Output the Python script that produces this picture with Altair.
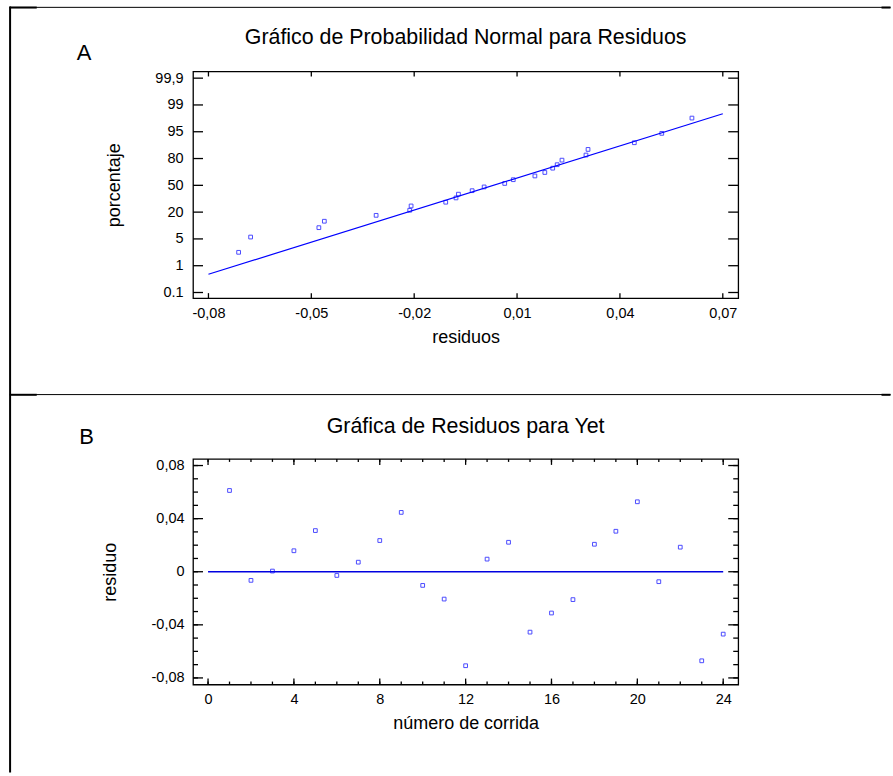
import json
import altair as alt
import pandas as pd

# ---------------- Panel A: normal probability plot of residuals ----------------
resid_sorted = [-0.0712, -0.0677, -0.0478, -0.0462, -0.0311, -0.0213, -0.0209, -0.0108,
                -0.0078, -0.0071, -0.0031, 0.0004, 0.0064, 0.0089, 0.0152, 0.0181,
                0.0204, 0.0217, 0.0231, 0.0301, 0.0307, 0.0442, 0.0522, 0.0610]
# position on the probability scale (0 = "0.1" tick ... 8 = "99,9" tick)
prob_pos = [1.50, 2.07, 2.42, 2.66, 2.88, 3.07, 3.23, 3.37, 3.53, 3.67, 3.80, 3.94,
            4.07, 4.21, 4.35, 4.48, 4.64, 4.77, 4.94, 5.13, 5.34, 5.59, 5.94, 6.51]
fit_x = [-0.08, 0.07]
fit_pos = [0.68, 6.67]
prob_labels = ["0.1", "1", "5", "20", "50", "80", "95", "99", "99,9"]
prob_tick_pos = [0, 1, 2, 3, 4, 5, 6, 7, 8]
resid_ticks = [-0.08, -0.05, -0.02, 0.01, 0.04, 0.07]

# ---------------- Panel B: residuals vs run number ----------------
runs = list(range(1, 25))
residuals = [0.0612, -0.0065, 0.0005, 0.0158, 0.0310, -0.0028, 0.0072, 0.0235,
             0.0447, -0.0103, -0.0206, -0.0708, 0.0095, 0.0222, -0.0455, -0.0311,
             -0.0210, 0.0207, 0.0305, 0.0527, -0.0075, 0.0185, -0.0671, -0.0470]
zero_runs = [0, 24]
zero_res = [0, 0]
run_ticks_major = [0, 4, 8, 12, 16, 20, 24]
run_ticks_minor = list(range(0, 25))
res_ticks_major = [-0.08, -0.04, 0, 0.04, 0.08]
res_ticks_minor = [-0.08, -0.07, -0.06, -0.05, -0.04, -0.03, -0.02, -0.01, 0,
                   0.01, 0.02, 0.03, 0.04, 0.05, 0.06, 0.07, 0.08]

title_A = "Gráfico de Probabilidad Normal para Residuos"
title_B = "Gráfica de Residuos para Yet"

FONT = "Liberation Sans"
BLUE = "#0000FF"
WA, HA = 546, 227
WB, HB = 546, 226
TW = 1.3
TITLE_SIZE = 21.4

dummy = pd.DataFrame({"k": [0]})
MINUS = "\u2212"
comma_fmt = ("replace(replace(format(datum.value, '.2f'), '.', ','), '" + MINUS + "', '-')")

# ---------- Panel A ----------
xA = alt.X("res:Q",
           scale=alt.Scale(domain=[-0.0845, 0.0745], nice=False, zero=False),
           axis=alt.Axis(values=resid_ticks, labelExpr=comma_fmt, title="residuos",
                         titleX=WA / 2, titleY=44.5, titleBaseline="alphabetic",
                         labelPadding=8))
yA = alt.Y("pos:Q",
           scale=alt.Scale(domain=[-0.21, 8.25], nice=False, zero=False),
           axis=alt.Axis(values=prob_tick_pos,
                         labelExpr=json.dumps(prob_labels) + "[datum.value]",
                         title="porcentaje", titleX=-74, titleY=HA / 2,
                         titleBaseline="alphabetic", labelPadding=10))

dfA = pd.DataFrame({"res": resid_sorted, "pos": prob_pos})
dfFit = pd.DataFrame({"res": fit_x, "pos": fit_pos})
dfTickA_y = pd.DataFrame({"pos": prob_tick_pos})
dfTickA_x = pd.DataFrame({"res": resid_ticks})

ptsA = alt.Chart(dfA).mark_point(shape="square", filled=False, size=14,
                                 strokeWidth=1, color=BLUE).encode(x=xA, y=yA)
fitA = alt.Chart(dfFit).mark_line(color=BLUE, strokeWidth=1.2).encode(x=xA, y=yA)
tyl = alt.Chart(dfTickA_y).mark_rule(color="black", strokeWidth=TW).encode(
    y=yA, x=alt.value(0), x2=alt.value(10))
tyr = alt.Chart(dfTickA_y).mark_rule(color="black", strokeWidth=TW).encode(
    y=yA, x=alt.value(WA), x2=alt.value(WA - 10))
txb = alt.Chart(dfTickA_x).mark_rule(color="black", strokeWidth=TW).encode(
    x=xA, y=alt.value(HA), y2=alt.value(HA - 5))
txt = alt.Chart(dfTickA_x).mark_rule(color="black", strokeWidth=TW).encode(
    x=xA, y=alt.value(0), y2=alt.value(5))

# figure frame lines (relative to panel A plot origin at 192.5, 71)
OX, OY = 192.5, 71
def hline(y, x1, x2, w):
    return alt.Chart(dummy).mark_rule(color="black", strokeWidth=w).encode(
        x=alt.value(x1 - OX), x2=alt.value(x2 - OX), y=alt.value(y - OY), y2=alt.value(y - OY))

frame = [
    alt.Chart(dummy).mark_rule(color="black", strokeWidth=2).encode(
        x=alt.value(9.3 - OX), x2=alt.value(9.3 - OX), y=alt.value(6 - OY), y2=alt.value(773 - OY)),
    hline(6.8, 9, 891, 1),
    hline(7.0, 9, 36, 2),
    hline(7.0, 882, 891, 2),
    hline(394.6, 9, 891, 1),
    hline(394.8, 9, 36, 2),
    hline(394.8, 882, 891, 2),
]

def text_mark(txt_, x, y, size, align):
    return alt.Chart(dummy).mark_text(text=txt_, font=FONT, fontSize=size, align=align,
                                      baseline="alphabetic", color="black").encode(
        x=alt.value(x), y=alt.value(y))

labelA = text_mark("A", 76 - OX, 60 - OY, 22, "left")
titleA = text_mark(title_A, WA / 2, -27, TITLE_SIZE, "center")

panelA = alt.layer(fitA, ptsA, tyl, tyr, txb, txt, labelA, titleA, *frame).properties(
    width=WA, height=HA)

# ---------- Panel B ----------
xB = alt.X("run:Q",
           scale=alt.Scale(domain=[-0.7, 24.7], nice=False, zero=False),
           axis=alt.Axis(values=run_ticks_major, format="d", title="número de corrida",
                         titleX=WB / 2, titleY=43.5, titleBaseline="alphabetic",
                         labelPadding=8))
yB = alt.Y("resid:Q",
           scale=alt.Scale(domain=[-0.085, 0.085], nice=False, zero=False),
           axis=alt.Axis(values=res_ticks_major,
                         labelExpr="datum.value == 0 ? '0' : " + comma_fmt,
                         title="residuo", titleX=-78, titleY=HB / 2,
                         titleBaseline="alphabetic", labelPadding=9))

dfB = pd.DataFrame({"run": runs, "resid": residuals})
dfZero = pd.DataFrame({"run": zero_runs, "resid": zero_res})

ptsB = alt.Chart(dfB).mark_point(shape="square", filled=False, size=14,
                                 strokeWidth=1, color=BLUE).encode(x=xB, y=yB)
zeroB = alt.Chart(dfZero).mark_line(color="#0000E0", strokeWidth=1.4).encode(x=xB, y=yB)

def yticks(vals, length):
    d = pd.DataFrame({"resid": vals})
    return [
        alt.Chart(d).mark_rule(color="black", strokeWidth=TW).encode(
            y=yB, x=alt.value(0), x2=alt.value(length)),
        alt.Chart(d).mark_rule(color="black", strokeWidth=TW).encode(
            y=yB, x=alt.value(WB), x2=alt.value(WB - length)),
    ]

def xticks(vals, length):
    d = pd.DataFrame({"run": vals})
    return [
        alt.Chart(d).mark_rule(color="black", strokeWidth=TW).encode(
            x=xB, y=alt.value(HB), y2=alt.value(HB - length)),
        alt.Chart(d).mark_rule(color="black", strokeWidth=TW).encode(
            x=xB, y=alt.value(0), y2=alt.value(length)),
    ]

OYB = 459
labelB = text_mark("B", 78.5 - OX, 444.3 - OYB, 22, "left")
titleB = text_mark(title_B, WB / 2, 433.3 - OYB, TITLE_SIZE, "center")

panelB = alt.layer(zeroB, ptsB, *yticks(res_ticks_minor, 5), *yticks(res_ticks_major, 10),
                   *xticks(run_ticks_minor, 3), *xticks(run_ticks_major, 6),
                   labelB, titleB).properties(width=WB, height=HB)

chart = alt.vconcat(panelA, panelB, spacing=161, bounds="flush").properties(
    padding={"left": 7.3, "top": 4, "right": 0, "bottom": 0}
).configure_view(stroke="black", strokeWidth=TW
).configure_axis(labelFont=FONT, labelFontSize=14.5, labelColor="black",
                 titleFont=FONT, titleFontSize=18, titleFontWeight="normal",
                 titleColor="black", ticks=False, domain=False, grid=False,
                 labelFlush=False, labelOverlap=False)

chart.save("out.html", embed_options={"renderer": "svg", "actions": False})
